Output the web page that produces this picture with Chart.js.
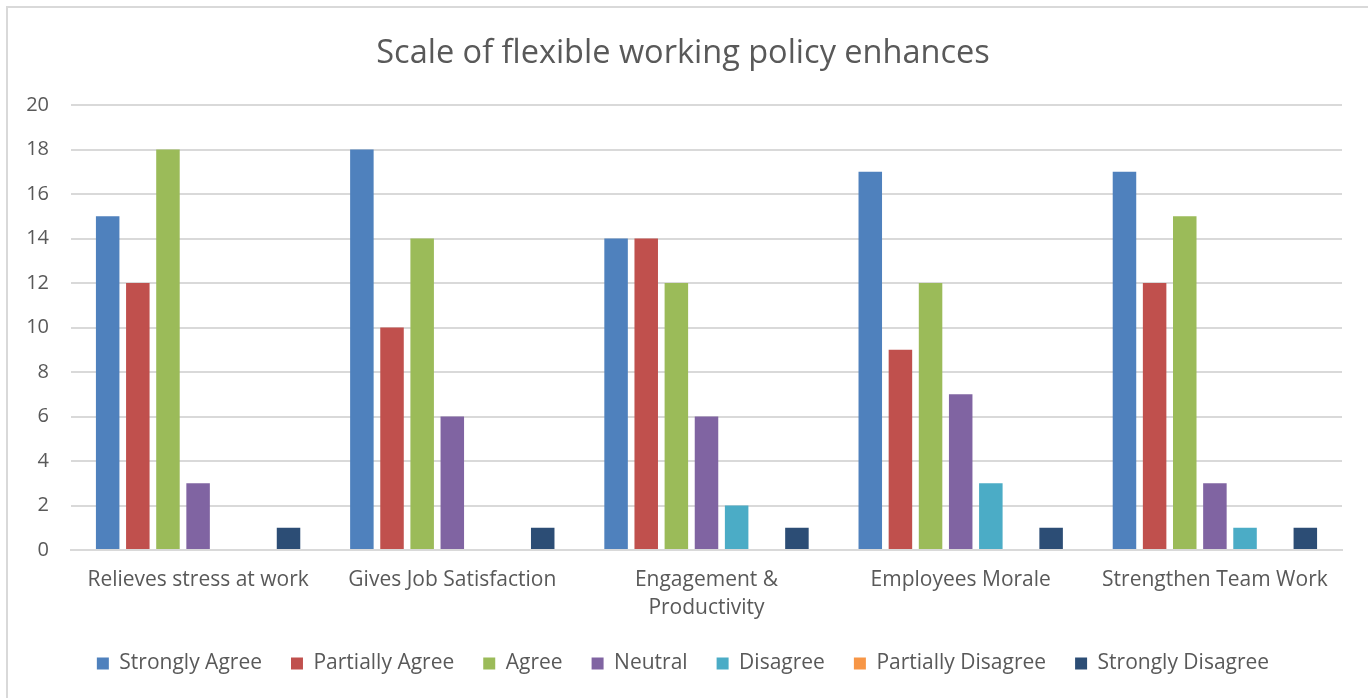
<!DOCTYPE html>
<html>
<head>
<meta charset="utf-8">
<script src="https://cdn.jsdelivr.net/npm/chart.js@4"></script>
<style>
  html, body { margin: 0; padding: 0; background: #fff; overflow: hidden; }
  #frame {
    position: absolute; left: 6px; top: 6px; width: 1400px; height: 720px;
    border: 2px solid #d9d9d9; box-sizing: border-box;
  }
  #wrap { position: absolute; left: 0; top: 0; width: 1368px; height: 698px; }
</style>
</head>
<body>
<div id="frame"></div>
<div id="wrap"><canvas id="grafico"></canvas></div>
<script>
const categorias = ['Relieves stress at work', 'Gives Job Satisfaction', ['Engagement &', 'Productivity'], 'Employees Morale', 'Strengthen Team Work']

const stronglyAgree = [15, 18, 14, 17, 17]
const partiallyAgree = [12, 10, 14, 9, 12]
const agree = [18, 14, 12, 12, 15]
const neutral = [3, 6, 6, 7, 3]
const disagree = [0, 0, 2, 3, 1]
const partiallyDisagree = [0, 0, 0, 0, 0]
const stronglyDisagree = [1, 1, 1, 1, 1]

const yTicks = [0, 2, 4, 6, 8, 10, 12, 14, 16, 18, 20]

const fonte = '"Open Sans", Lato, sans-serif'
const cinza = '#595959'

function serie(label, data, cor) {
  return {
    label: label,
    data: data,
    backgroundColor: cor,
    borderWidth: 0,
    barPercentage: 0.78,
    categoryPercentage: 0.83
  }
}

const g = new Chart(document.getElementById('grafico'), {
  type: 'bar',
  data: {
    labels: categorias,
    datasets: [
      serie('Strongly Agree', stronglyAgree, '#4F81BD'),
      serie('Partially Agree', partiallyAgree, '#C0504D'),
      serie('Agree', agree, '#9BBB59'),
      serie('Neutral', neutral, '#8064A2'),
      serie('Disagree', disagree, '#4BACC6'),
      serie('Partially Disagree', partiallyDisagree, '#F79646'),
      serie('Strongly Disagree', stronglyDisagree, '#2C4D75')
    ]
  },
  options: {
    responsive: true,
    maintainAspectRatio: false,
    animation: false,
    layout: { padding: { top: 34, left: 24, right: 26, bottom: 14 } },
    plugins: {
      title: {
        display: true,
        text: 'Scale of flexible working policy enhances',
        color: cinza,
        font: { family: fonte, size: 32.5, weight: 'normal' },
        padding: { top: 0, bottom: 32 }
      },
      legend: {
        position: 'bottom',
        labels: {
          color: cinza,
          font: { family: fonte, size: 21 },
          boxWidth: 12,
          boxHeight: 12,
          padding: 29
        }
      },
      tooltip: { enabled: false }
    },
    scales: {
      x: {
        grid: { display: false, drawTicks: false },
        border: { color: '#d9d9d9', width: 2 },
        ticks: {
          color: cinza,
          font: { family: fonte, size: 21, lineHeight: 1.33 },
          padding: 16,
          maxRotation: 0,
          autoSkip: false
        },
        afterFit: function(scale) { scale.height = 74 }
      },
      y: {
        min: 0,
        max: 20,
        afterBuildTicks: function(scale) { scale.ticks = yTicks.map(v => ({ value: v })) },
        grid: { color: '#d9d9d9', lineWidth: 2, drawTicks: false },
        border: { display: false },
        ticks: {
          color: cinza,
          font: { family: fonte, size: 20 },
          padding: 22
        },
        afterFit: function(scale) { scale.width = 47 }
      }
    }
  }
})
</script>
</body>
</html>
